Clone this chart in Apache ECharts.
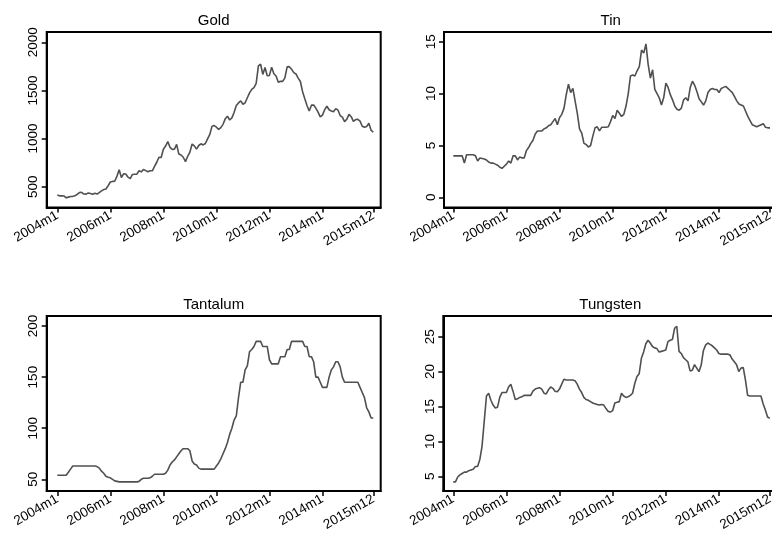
<!DOCTYPE html>
<html>
<head>
<meta charset="utf-8">
<script src="https://cdn.jsdelivr.net/npm/echarts@6/dist/echarts.min.js"></script>
<style>
  html, body { margin: 0; padding: 0; background: #fff; overflow: hidden; }
  #chart { width: 780px; height: 534px; }
</style>
</head>
<body>
<div id="chart"></div>
<script>
// monthly series, 2004m1 .. 2015m12 (index 0 .. 143)
const tickIdx = [0, 24, 48, 72, 96, 120, 143];
const tickLabels = ['2004m1', '2006m1', '2008m1', '2010m1', '2012m1', '2014m1', '2015m12'];

const gold = [
  414, 405, 406, 404, 384, 392, 398, 400, 406, 420, 439, 442,
  424, 423, 434, 429, 422, 431, 424, 438, 456, 470, 476, 510,
  549, 555, 557, 610, 676, 596, 634, 632, 599, 585, 627, 629,
  631, 665, 654, 679, 667, 655, 665, 665, 712, 754, 806, 803,
  889, 922, 968, 909, 888, 889, 939, 839, 829, 806, 761, 816,
  858, 943, 924, 890, 928, 946, 934, 949, 996, 1043, 1127, 1135,
  1118, 1095, 1114, 1148, 1205, 1233, 1193, 1215, 1271, 1343, 1370, 1391,
  1356, 1372, 1424, 1474, 1511, 1529, 1573, 1756, 1772, 1666, 1739, 1652,
  1656, 1742, 1673, 1650, 1585, 1596, 1594, 1630, 1745, 1747, 1721, 1685,
  1671, 1628, 1593, 1487, 1414, 1343, 1286, 1347, 1349, 1316, 1275, 1225,
  1244, 1300, 1336, 1299, 1287, 1279, 1311, 1296, 1239, 1222, 1176, 1200,
  1251, 1227, 1179, 1198, 1199, 1181, 1128, 1118, 1125, 1159, 1086, 1068
];

const tin = [
  4.0, 4.0, 4.0, 4.0, 4.0, 3.3, 4.1, 4.1, 4.1, 4.1, 4.0, 3.5,
  3.8, 3.75, 3.7, 3.6, 3.4, 3.3, 3.3, 3.2, 3.1, 2.9, 2.8, 3.0,
  3.2, 3.5, 3.3, 4.0, 4.0, 3.6, 3.9, 3.8, 3.8, 4.5, 4.8, 5.2,
  5.5, 6.1, 6.4, 6.4, 6.4, 6.6, 6.7, 6.9, 7.0, 7.3, 7.6, 7.0,
  7.7, 8.0, 8.6, 9.9, 10.9, 10.1, 10.5, 9.3, 8.1, 6.6, 6.2, 5.2,
  5.1, 4.85, 5.0, 5.9, 6.7, 6.8, 6.4, 6.75, 6.75, 6.75, 6.8, 7.3,
  7.9, 7.6, 8.4, 8.1, 7.8, 8.0, 8.8, 10.0, 11.7, 11.8, 11.7, 12.2,
  12.6, 14.2, 13.9, 14.8, 12.8, 11.5, 12.3, 10.4, 10.0, 9.6, 8.9, 9.6,
  11.0, 10.6, 9.9, 9.4, 8.8, 8.5, 8.4, 8.6, 9.4, 9.6, 9.3, 10.6,
  11.2, 10.8, 10.2, 9.5, 9.2, 8.9, 9.3, 10.1, 10.4, 10.5, 10.4, 10.4,
  10.1, 10.5, 10.6, 10.7, 10.5, 10.3, 10.1, 9.7, 9.3, 9.0, 8.9, 8.8,
  8.3, 7.8, 7.4, 7.0, 6.9, 6.8, 6.9, 7.0, 7.1, 6.75, 6.7, 6.7
];

const tantalum = [
  54, 54, 54, 54, 54, 57, 60, 63, 63, 63, 63, 63,
  63, 63, 63, 63, 63, 63, 62.5, 61, 58, 56, 53, 52,
  51.5, 50, 48.5, 48, 47.5, 47.5, 47.5, 47.5, 47.5, 47.5, 47.5, 47.5,
  47.5, 48, 50, 51, 51, 51, 51.5, 53, 55, 55, 55, 55,
  55, 56, 59, 64, 67, 69, 72, 75, 78, 80, 80, 80,
  78, 68, 65, 64, 61, 60, 60, 60, 60, 60, 60, 60,
  63, 66, 70, 75, 80, 86, 94, 100, 108, 112, 130, 145,
  145, 157, 161, 175, 177, 180, 185, 185, 185, 180, 180, 180,
  167, 163, 163, 163, 163, 170, 170, 170, 177, 177, 185, 185,
  185, 185, 185, 185, 180, 180, 170, 170, 165, 150, 150, 145,
  140, 140, 140, 150, 157, 160, 165, 165, 160, 150, 145, 145,
  145, 145, 145, 145, 145, 140, 135, 130, 120, 116, 110, 110
];

const tungsten = [
  4.2, 4.2, 4.9, 5.2, 5.4, 5.6, 5.6, 5.8, 5.9, 6.0, 6.4, 6.4,
  7.4, 9.3, 12.9, 16.5, 16.9, 15.9, 15.2, 14.8, 14.9, 16.3, 17.0, 17.0,
  17.0, 17.8, 18.2, 17.2, 16.0, 16.1, 16.3, 16.4, 16.6, 16.6, 16.6, 16.6,
  17.2, 17.5, 17.6, 17.7, 17.5, 16.9, 16.8, 17.4, 17.8, 17.6, 17.2, 17.1,
  17.5, 18.2, 18.9, 18.8, 18.8, 18.8, 18.8, 18.7, 18.2, 17.5, 17.0, 16.3,
  16.0, 15.9, 15.7, 15.5, 15.4, 15.3, 15.2, 15.3, 15.2, 14.7, 14.3, 14.2,
  14.4, 15.5, 15.6, 15.7, 16.9, 16.5, 16.3, 16.4, 16.6, 16.9, 18.3, 19.3,
  19.7, 21.9, 22.8, 24.0, 24.5, 24.1, 23.6, 23.4, 23.3, 22.8, 22.9, 23.0,
  23.1, 24.3, 24.5, 24.6, 26.2, 26.5, 22.9, 22.6, 22.0, 21.7, 21.4, 20.1,
  20.2, 21.0, 20.5, 20.0, 20.9, 23.0, 23.8, 24.1, 23.9, 23.7, 23.4, 23.1,
  22.6, 22.5, 22.5, 22.5, 22.5, 22.4, 21.8, 21.4, 21.0, 20.0, 20.5, 20.6,
  18.8, 16.6, 16.5, 16.5, 16.5, 16.5, 16.5, 16.5, 15.4, 14.5, 13.5, 13.3
];

const panels = [
  { name: 'Gold', data: gold, yTicks: [500, 1000, 1500, 2000], yMin: 284, yMax: 2107,
    grid: { left: 46.7, top: 32, width: 334, height: 175.5 }, xMin: -4.8, xMax: 146.35 },
  { name: 'Tin', data: tin, yTicks: [0, 5, 10, 15], yMin: -0.98, yMax: 15.94,
    grid: { left: 444, top: 32, width: 333.5, height: 175.5 }, xMin: -4.2, xMax: 146.4 },
  { name: 'Tantalum', data: tantalum, yTicks: [50, 100, 150, 200], yMin: 38.6, yMax: 209.8,
    grid: { left: 46.7, top: 316, width: 334, height: 175 }, xMin: -4.8, xMax: 146.35 },
  { name: 'Tungsten', data: tungsten, yTicks: [5, 10, 15, 20, 25], yMin: 2.89, yMax: 27.97,
    grid: { left: 443.3, top: 316, width: 334, height: 175 }, xMin: -4.5, xMax: 146.4 }
];

const font = '"Liberation Sans", Arial, Helvetica, sans-serif';
const black = '#000';

const chart = echarts.init(document.getElementById('chart'));

const option = {
  backgroundColor: '#fff',
  animation: false,
  title: panels.map(p => ({
    text: p.name,
    left: p.grid.left + p.grid.width / 2,
    top: p.grid.top - 19,
    textAlign: 'center',
    padding: 0,
    textStyle: { fontFamily: font, fontSize: 15, fontWeight: 'normal', color: black }
  })),
  grid: panels.map(p => ({
    left: p.grid.left, top: p.grid.top, width: p.grid.width, height: p.grid.height,
    show: true, borderColor: black, borderWidth: 2, backgroundColor: '#fff'
  })),
  xAxis: panels.map((p, i) => ({
    type: 'value',
    gridIndex: i,
    min: p.xMin,
    max: p.xMax,
    splitLine: { show: false },
    axisLine: { show: true, onZero: false, lineStyle: { color: black, width: 2 } },
    axisTick: { show: true, customValues: tickIdx, length: 5, lineStyle: { color: black, width: 1.5 } },
    axisLabel: {
      customValues: tickIdx,
      formatter: v => tickLabels[tickIdx.indexOf(Math.round(v))] || '',
      rotate: 30, margin: 7,
      fontFamily: font, fontSize: 13.5, color: black
    }
  })),
  yAxis: panels.map((p, i) => ({
    type: 'value',
    gridIndex: i,
    min: p.yMin,
    max: p.yMax,
    splitLine: { show: false },
    axisLine: { show: true, onZero: false, lineStyle: { color: black, width: 2 } },
    axisTick: { show: true, customValues: p.yTicks, length: 5, lineStyle: { color: black, width: 1.5 } },
    axisLabel: {
      customValues: p.yTicks,
      formatter: v => String(Math.round(v)),
      rotate: 90, margin: 6,
      fontFamily: font, fontSize: 13.5, color: black
    }
  })),
  series: panels.map((p, i) => ({
    name: p.name,
    type: 'line',
    xAxisIndex: i,
    yAxisIndex: i,
    data: p.data.map((v, m) => [m, v]),
    showSymbol: false,
    symbol: 'none',
    lineStyle: { color: '#505050', width: 1.6 },
    silent: true
  }))
};

chart.setOption(option);
</script>
</body>
</html>
